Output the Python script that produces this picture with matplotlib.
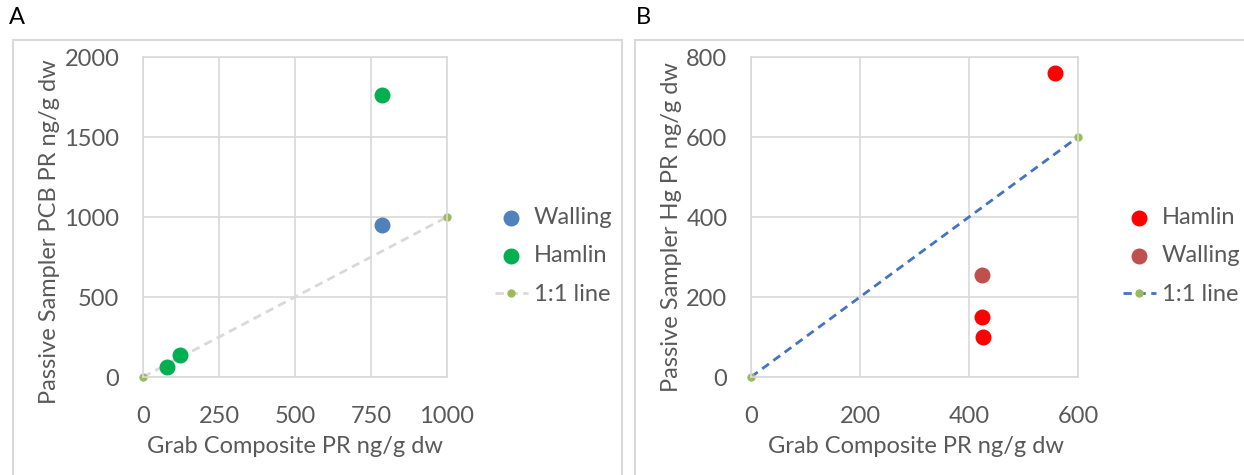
import matplotlib
matplotlib.use("Agg")
import matplotlib.pyplot as plt
from matplotlib.patches import Rectangle

plt.rcParams['font.family'] = ['Lato', 'DejaVu Sans']

# ---- data ----
a_walling_x = [785]
a_walling_y = [950]
a_hamlin_x = [785, 80, 122]
a_hamlin_y = [1760, 65, 140]
a_line_x = [0, 1000]
a_line_y = [0, 1000]
a_xticks = [0, 250, 500, 750, 1000]
a_yticks = [0, 500, 1000, 1500, 2000]

b_hamlin_x = [557, 423, 426]
b_hamlin_y = [759, 149, 101]
b_walling_x = [423]
b_walling_y = [254]
b_line_x = [0, 600]
b_line_y = [0, 600]
b_xticks = [0, 200, 400, 600]
b_yticks = [0, 200, 400, 600, 800]

W, H = 1244, 475
fig = plt.figure(figsize=(W / 100, H / 100), dpi=100)

TXT = '#595959'
GRID = '#D9D9D9'
FS = 17

# panel frames
fig.patches.append(Rectangle((13 / W, -0.05), (622 - 13) / W, 1.05 - 40 / H,
                             transform=fig.transFigure, fill=False,
                             edgecolor=GRID, lw=1.5))
fig.patches.append(Rectangle((635 / W, -0.05), (1260 - 635) / W, 1.05 - 40 / H,
                             transform=fig.transFigure, fill=False,
                             edgecolor=GRID, lw=1.5))
fig.text(9 / W, 1 - 17 / H, 'A', fontsize=17, va='center', ha='left', color='black')
fig.text(636 / W, 1 - 17 / H, 'B', fontsize=17, va='center', ha='left', color='black')


def style(ax, xt, yt):
    ax.set_xticks(xt)
    ax.set_yticks(yt)
    ax.set_xlim(xt[0], xt[-1])
    ax.set_ylim(yt[0], yt[-1])
    ax.grid(True, color=GRID, lw=1.2)
    ax.set_axisbelow(True)
    for s in ax.spines.values():
        s.set_color(GRID)
        s.set_linewidth(1.2)
    ax.tick_params(length=0, labelsize=FS, colors=TXT)
    ax.tick_params(axis='x', pad=21)
    ax.tick_params(axis='y', pad=17)
    for lab in ax.get_xticklabels() + ax.get_yticklabels():
        lab.set_color(TXT)


def legend(ax, x_anchor):
    h, l = ax.get_legend_handles_labels()
    order = [1, 2, 0]
    ax.legend([h[i] for i in order], [l[i] for i in order], loc='center left',
              bbox_to_anchor=(x_anchor / W, 1 - 256 / H), bbox_transform=fig.transFigure,
              frameon=False, fontsize=FS, labelcolor=TXT, handlelength=1.4,
              handletextpad=0.25, labelspacing=0.75, borderpad=0.2, borderaxespad=0)


ax1 = fig.add_axes([143 / W, 1 - 377 / H, (447 - 143) / W, (377 - 57) / H])
ax1.plot(a_line_x, a_line_y, ls=(0, (3, 2)), color='#D9D9D9', lw=2,
         marker='o', ms=5, mfc='#9BBB59', mec='#9BBB59', label='1:1 line', zorder=2, clip_on=False)
ax1.scatter(a_walling_x, a_walling_y, s=110, color='#4F81BD', label='Walling', zorder=3, clip_on=False)
ax1.scatter(a_hamlin_x, a_hamlin_y, s=110, color='#00B050', label='Hamlin', zorder=3, clip_on=False)
style(ax1, a_xticks, a_yticks)
ax1.set_xlabel('Grab Composite PR ng/g dw', fontsize=FS, color=TXT)
ax1.set_ylabel('Passive Sampler PCB PR ng/g dw', fontsize=FS, color=TXT)
ax1.xaxis.set_label_coords(295 / W, 1 - 436 / H, transform=fig.transFigure)
ax1.yaxis.set_label_coords(60 / W, 1 - 232 / H, transform=fig.transFigure)
legend(ax1, 490)

ax2 = fig.add_axes([751 / W, 1 - 377 / H, (1078 - 751) / W, (377 - 57) / H])
ax2.plot(b_line_x, b_line_y, ls=(0, (3, 2)), color='#4472C4', lw=2,
         marker='o', ms=5, mfc='#9BBB59', mec='#9BBB59', label='1:1 line', zorder=2, clip_on=False)
ax2.scatter(b_hamlin_x, b_hamlin_y, s=110, color='#FF0000', label='Hamlin', zorder=3, clip_on=False)
ax2.scatter(b_walling_x, b_walling_y, s=110, color='#C0504D', label='Walling', zorder=3, clip_on=False)
style(ax2, b_xticks, b_yticks)
ax2.set_xlabel('Grab Composite PR ng/g dw', fontsize=FS, color=TXT)
ax2.set_ylabel('Passive Sampler Hg PR ng/g dw', fontsize=FS, color=TXT)
ax2.xaxis.set_label_coords(916 / W, 1 - 436 / H, transform=fig.transFigure)
ax2.yaxis.set_label_coords(682 / W, 1 - 227 / H, transform=fig.transFigure)
legend(ax2, 1118)

fig.savefig('out.png', dpi=100)
